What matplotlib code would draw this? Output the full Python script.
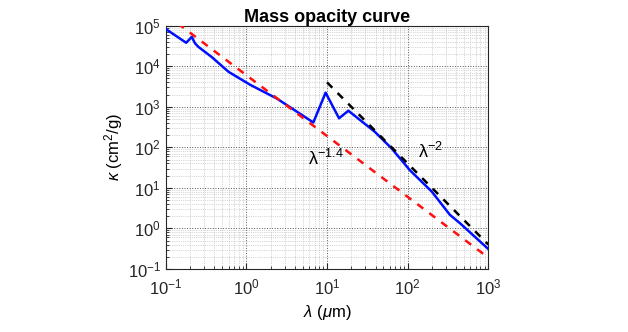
import matplotlib
matplotlib.use("Agg")
import matplotlib.pyplot as plt
import numpy as np

plt.rcParams['font.family'] = ['Liberation Sans', 'DejaVu Sans']
plt.rcParams['mathtext.fontset'] = 'custom'
plt.rcParams['mathtext.rm'] = 'Liberation Sans'
plt.rcParams['mathtext.it'] = 'Liberation Sans:italic'

# opacity curve
wl = [0.1, 0.179, 0.21, 0.23, 0.254, 0.37, 0.6, 1.11, 2.38, 3.5, 6.76, 9.6,
      14.1, 18.4, 39, 63, 107, 199, 335, 446, 1000]
kappa = [8.3e4, 3.8e4, 5.3e4, 3.7e4, 3.0e4, 1.7e4, 7.3e3, 3.5e3, 1.6e3, 970,
         410, 2230, 520, 800, 243, 95, 27, 8.1, 2.15, 1.34, 0.31]

# power law guide lines
red_x = [0.1, 1000]
red_y = [1.9e5, 0.19]
black_x = [10, 1000]
black_y = [4000, 0.4]

fig = plt.figure(figsize=(6.28, 3.32), dpi=100)
ax = fig.add_axes([0.264, 0.19, 0.5135, 0.7325])

ax.plot(wl, kappa, color='#0010ff', lw=1.8, zorder=3)
ax.plot(red_x, red_y, color='#ff1010', lw=1.8, ls=(0, (3, 3)), zorder=4)
ax.plot(black_x, black_y, color='black', lw=1.8, ls=(0, (3, 3)), zorder=4)

ax.set_xscale('log')
ax.set_yscale('log')
ax.set_xlim(0.1, 1000)
ax.set_ylim(0.1, 1e5)
ax.set_xticks([0.1, 1, 10, 100, 1000])
ax.set_yticks([0.1, 1, 10, 100, 1e3, 1e4, 1e5])

ax.grid(True, which='major', ls=':', color='#555555', lw=0.7)
ax.grid(True, which='minor', ls=':', color='#b0b0b0', lw=0.5)
ax.tick_params(which='both', direction='in', top=False, right=False,
               labelsize=12, colors='#262626')
ax.tick_params(axis='x', pad=6)
ax.tick_params(which='major', length=4)
ax.tick_params(which='minor', length=2)
for s in ax.spines.values():
    s.set_color('#262626')
    s.set_linewidth(0.8)

ax.text(5.8, 36.7, 'λ$^{\\mathrm{-1.4}}$', fontsize=13, ha='left', va='baseline')
ax.text(134, 54.6, 'λ$^{\\mathrm{-2}}$', fontsize=13, ha='left', va='baseline')

ax.set_title('Mass opacity curve', fontsize=13, fontweight='bold', pad=2)
ax.set_xlabel(r'$\lambda$ ($\mu$m)', fontsize=12, labelpad=4)
ax.set_ylabel(r'$\kappa$ (cm$^2$/g)', fontsize=12, labelpad=2)

fig.savefig('out.png', dpi=100)
